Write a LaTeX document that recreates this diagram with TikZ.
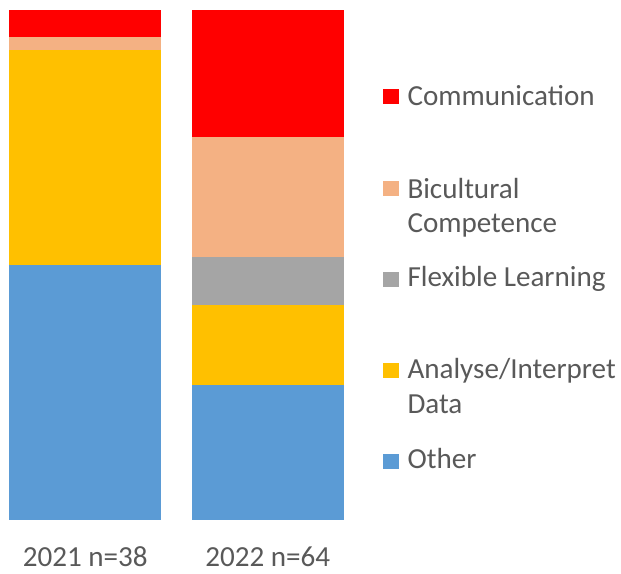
\documentclass[tikz,border=0pt]{standalone}
\usepackage{fontspec}
\setmainfont{Carlito}
\definecolor{cRed}{HTML}{FF0000}
\definecolor{cPeach}{HTML}{F4B183}
\definecolor{cYellow}{HTML}{FFC000}
\definecolor{cGray}{HTML}{A5A5A5}
\definecolor{cBlue}{HTML}{5B9BD5}
\definecolor{cText}{HTML}{595959}
\tikzset{
  lbl/.style={inner sep=0pt, text=cText, font=\fontsize{29.1}{34}\selectfont, anchor=base west},
  axlbl/.style={inner sep=0pt, text=cText, font=\fontsize{29.1}{34}\selectfont, anchor=base},
}
\begin{document}
\begin{tikzpicture}[x=1pt,y=-1pt]
\useasboundingbox (0,0) rectangle (621,573);
% bar 2021
\fill[cRed]    (9.3,10)    rectangle (161.3,37);
\fill[cPeach]  (9.3,37)    rectangle (161.3,50.3);
\fill[cYellow] (9.3,50.3)  rectangle (161.3,265.3);
\fill[cBlue]   (9.3,265.3) rectangle (161.3,520);
% bar 2022
\fill[cRed]    (191.7,10)    rectangle (343.7,137.3);
\fill[cPeach]  (191.7,137.3) rectangle (343.7,257.3);
\fill[cGray]   (191.7,257.3) rectangle (343.7,305);
\fill[cYellow] (191.7,305)   rectangle (343.7,385.3);
\fill[cBlue]   (191.7,385.3) rectangle (343.7,520);
% axis labels
\node[axlbl] (x1) at (85.3,566.7) {2021 n=38};
\node[axlbl] (x2) at (267.7,566.7) {2022 n=64};
% legend
\fill[cRed]    (383.3,89.3)  rectangle (399.3,104.3);
\node[lbl] (l1) at (407.3,105.7) {Communication};
\fill[cPeach]  (383.3,181)   rectangle (399.3,196);
\node[lbl] (l2a) at (407.3,198.3) {Bicultural};
\node[lbl] (l2b) at (407.3,232.3) {Competence};
\fill[cGray]   (383.3,272.3) rectangle (399.3,287.3);
\node[lbl] (l3) at (407.3,286.7) {Flexible Learning};
\fill[cYellow] (383.3,362.7) rectangle (399.3,377.7);
\node[lbl] (l4a) at (407.3,378.3) {Analyse/Interpret};
\node[lbl] (l4b) at (407.3,413.3) {Data};
\fill[cBlue]   (383.3,454)   rectangle (399.3,469.3);
\node[lbl] (l5) at (407.3,468.3) {Other};
\end{tikzpicture}
\end{document}
